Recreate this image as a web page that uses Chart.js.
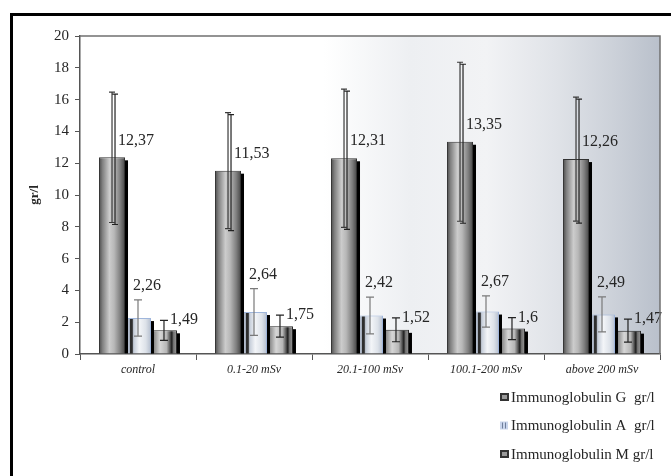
<!DOCTYPE html>
<html>
<head>
<meta charset="utf-8">
<script src="https://cdn.jsdelivr.net/npm/chart.js@4/dist/chart.umd.min.js"></script>
<style>
  html, body { margin: 0; padding: 0; background: #fff; }
  canvas { display: block; }
</style>
</head>
<body>
<canvas id="c" width="671" height="476"></canvas>
<script>
// Dose groups
const categories = ['control', '0.1-20 mSv', '20.1-100 mSv', '100.1-200 mSv', 'above 200 mSv'];

// Mean immunoglobulin levels, gr/l
const igG = [12.37, 11.53, 12.31, 13.35, 12.26];
const igA = [2.26, 2.64, 2.42, 2.67, 2.49];
const igM = [1.49, 1.75, 1.52, 1.6, 1.47];

// Standard deviations
const igGsd = [4.1, 3.65, 4.35, 5.0, 3.9];
const igAsd = [1.14, 1.47, 1.16, 0.98, 1.1];
const igMsd = [0.63, 0.69, 0.75, 0.69, 0.72];

const seriesNames = ['Immunoglobulin G  gr/l', 'Immunoglobulin A  gr/l', 'Immunoglobulin M gr/l'];

const Y_MIN = 0, Y_MAX = 20, Y_STEP = 2;

const SERIF = '"Liberation Serif", "Times New Roman", serif';
const CAT_PCT = 0.672;

// Horizontal shading per bar, computed from the x scale
const shades = [
  [[0, '#444444'], [0.12, '#7c7c7c'], [0.4, '#cccccc'], [0.58, '#b8b8b8'], [0.82, '#7e7e7e'], [1, '#464646']],
  [[0, '#c6cfdd'], [0.17, '#aeb8c8'], [0.21, '#2e2e2e'], [0.28, '#2e2e2e'], [0.33, '#c4ccd8'], [0.55, '#f3f5f8'], [0.8, '#dde2e9'], [1, '#b3bdcd']],
  [[0, '#4e4e4e'], [0.1, '#858585'], [0.35, '#d6d6d6'], [0.6, '#b6b6b6'], [0.72, '#606060'], [0.8, '#1e1e1e'], [0.87, '#747474'], [1, '#949494']]
];
const flat = ['#aaaaaa', '#dde3ec', '#aaaaaa'];

function barFill(ctx) {
  const chart = ctx.chart;
  const xs = chart.scales && chart.scales.x;
  const di = ctx.datasetIndex;
  if (!xs || ctx.dataIndex === undefined || di === undefined) return flat[di || 0];
  const cat = xs.width / categories.length;
  const bw = cat * CAT_PCT / 3;
  const cx = xs.getPixelForValue(ctx.dataIndex) + (di - 1) * bw;
  if (!isFinite(cx) || !isFinite(bw) || bw <= 0) return flat[di];
  const g = chart.ctx.createLinearGradient(cx - bw / 2, 0, cx + bw / 2, 0);
  shades[di].forEach(s => g.addColorStop(s[0], s[1]));
  return g;
}

const fmt = v => String(v).replace('.', ',');

// Outer frame, shaded plot background and plot border
const backdrop = {
  id: 'backdrop',
  beforeDraw(chart) {
    const c = chart.ctx;
    const a = chart.chartArea;
    c.save();
    c.fillStyle = '#fff';
    c.fillRect(0, 0, chart.width, chart.height);
    const g = c.createLinearGradient(a.left, 0, a.right, 0);
    g.addColorStop(0, '#ffffff');
    g.addColorStop(0.42, '#ffffff');
    g.addColorStop(0.57, '#edeff2');
    g.addColorStop(0.7, '#f2f3f5');
    g.addColorStop(0.82, '#e0e3e8');
    g.addColorStop(0.92, '#ccd1d9');
    g.addColorStop(1, '#b9c0cb');
    c.fillStyle = g;
    c.fillRect(a.left, a.top, a.right - a.left, a.bottom - a.top);
    c.fillStyle = '#000';
    c.fillRect(10, 13, chart.width - 10, 3);
    c.fillRect(10, 13, 3, chart.height - 13);
    c.restore();
  },
  afterDraw(chart) {
    const c = chart.ctx;
    const a = chart.chartArea;
    c.save();
    c.strokeStyle = '#707070';
    c.lineWidth = 1.5;
    c.beginPath();
    c.moveTo(a.left, a.top);
    c.lineTo(a.right, a.top);
    c.lineTo(a.right, a.bottom);
    c.stroke();
    c.restore();
  }
};

// Bar shadows, error bars and value labels
const decorations = {
  id: 'decorations',
  afterDatasetsDraw(chart) {
    const c = chart.ctx;
    const ys = chart.scales.y;
    c.save();
    chart.data.datasets.forEach((ds, di) => {
      chart.getDatasetMeta(di).data.forEach(el => {
        const p = el.getProps(['x', 'y', 'base', 'width'], true);
        c.fillStyle = '#000';
        c.fillRect(p.x + p.width / 2, p.y + 3, 3, p.base - p.y - 3);
      });
    });

    const whisker = (x, top, bot, cap, color) => {
      c.strokeStyle = color;
      c.lineWidth = 1.2;
      c.beginPath();
      c.moveTo(x, top); c.lineTo(x, bot);
      c.moveTo(x - cap, top); c.lineTo(x + cap, top);
      c.moveTo(x - cap, bot); c.lineTo(x + cap, bot);
      c.stroke();
    };
    const colors = ['#3a3a3a', '#7a7a7a', '#222222'];
    chart.data.datasets.forEach((ds, di) => {
      chart.getDatasetMeta(di).data.forEach((el, i) => {
        const v = ds.data[i], e = ds.sd[i];
        const top = ys.getPixelForValue(v + e);
        const bot = ys.getPixelForValue(v - e);
        if (di === 0) whisker(el.x + 3, top + 2, bot + 2, 3, '#222');
        whisker(el.x, top, bot, di === 0 ? 3 : 4, colors[di]);
      });
    });

    c.fillStyle = '#262626';
    c.font = '16px ' + SERIF;
    c.textAlign = 'left';
    c.textBaseline = 'middle';
    chart.data.datasets.forEach((ds, di) => {
      chart.getDatasetMeta(di).data.forEach((el, i) => {
        const v = ds.data[i], e = ds.sd[i];
        const errTop = ys.getPixelForValue(v + e);
        let x, y;
        if (di === 0) { x = el.x + 6; y = el.y - 17; }
        else if (di === 1) { x = el.x - 5; y = errTop - 14; }
        else { x = el.x + 6; y = errTop; }
        c.fillText(fmt(v), x, y);
      });
    });
    c.restore();
  }
};

// Legend list at the lower right
const sideLegend = {
  id: 'sideLegend',
  afterDraw(chart) {
    const c = chart.ctx;
    c.save();
    c.font = '15px ' + SERIF;
    c.textAlign = 'left';
    c.textBaseline = 'middle';
    chart.data.datasets.forEach((ds, di) => {
      const y = 397 + di * 28.5;
      const bx = 500, by = y - 4;
      if (di === 1) {
        c.fillStyle = '#c9d5ec';
        c.fillRect(bx, by, 8, 8);
        c.fillStyle = '#6f7f9c';
        c.fillRect(bx + 2, by + 1, 1, 6);
        c.fillRect(bx + 5, by + 1, 1, 6);
      } else {
        c.fillStyle = '#333';
        c.fillRect(bx, by, 9, 8);
        c.fillStyle = '#9a9a9a';
        c.fillRect(bx + 2, by + 2, 5, 4);
      }
      c.fillStyle = '#262626';
      c.fillText(ds.label, 511, y + 1);
    });
    c.restore();
  }
};

new Chart(document.getElementById('c'), {
  type: 'bar',
  data: {
    labels: categories,
    datasets: [
      { label: seriesNames[0], data: igG, sd: igGsd, backgroundColor: barFill, borderColor: '#333', borderWidth: 1 },
      { label: seriesNames[1], data: igA, sd: igAsd, backgroundColor: barFill, borderColor: '#9fb6dc', borderWidth: 1 },
      { label: seriesNames[2], data: igM, sd: igMsd, backgroundColor: barFill, borderColor: '#222', borderWidth: 1 }
    ]
  },
  options: {
    responsive: false,
    animation: false,
    devicePixelRatio: 1,
    layout: { padding: { left: 0, top: 36, right: 11, bottom: 0 } },
    datasets: { bar: { categoryPercentage: CAT_PCT, barPercentage: 1 } },
    plugins: { legend: { display: false }, tooltip: { enabled: false } },
    scales: {
      x: {
        offset: true,
        grid: { drawOnChartArea: false, drawTicks: true, tickLength: 6, tickColor: '#555' },
        border: { display: true, color: '#555', width: 1.5 },
        ticks: { color: '#262626', padding: 3, font: { family: SERIF, size: 12, style: 'italic' }, maxRotation: 0 },
        afterFit: s => { s.height = 122; }
      },
      y: {
        min: Y_MIN, max: Y_MAX,
        grid: { drawOnChartArea: false, drawTicks: true, tickLength: 5, tickColor: '#555' },
        border: { display: true, color: '#555', width: 1.5 },
        ticks: { stepSize: Y_STEP, color: '#262626', padding: 6, font: { family: SERIF, size: 15 } },
        title: { display: true, text: 'gr/l', color: '#262626', font: { family: SERIF, size: 13, weight: 'bold' }, padding: { top: 27, bottom: 0 } },
        afterFit: s => { s.width = 80; }
      }
    }
  },
  plugins: [backdrop, decorations, sideLegend]
});
</script>
</body>
</html>
